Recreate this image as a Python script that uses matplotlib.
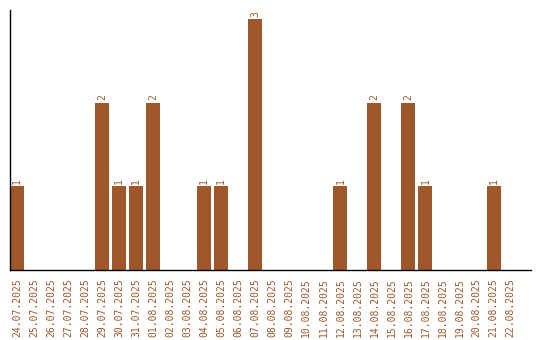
import matplotlib
matplotlib.use("Agg")
import matplotlib.pyplot as plt
import numpy as np
import pandas as pd

days = pd.date_range("2025-07-24", "2025-08-22", freq="D")
labels = [d.strftime("%d.%m.%Y") for d in days]
counts = {"24.07.2025": 1, "29.07.2025": 2, "30.07.2025": 1, "31.07.2025": 1,
          "01.08.2025": 2, "04.08.2025": 1, "05.08.2025": 1, "07.08.2025": 3,
          "12.08.2025": 1, "14.08.2025": 2, "16.08.2025": 2, "17.08.2025": 1,
          "21.08.2025": 1}
values = [counts.get(l, 0) for l in labels]

color = "#a0572a"
fig = plt.figure(figsize=(5.4, 3.4), dpi=100)
fig.patch.set_facecolor("white")
ax = fig.add_axes([10 / 540, 70 / 340, 521 / 540, 260 / 340])

x = np.arange(len(labels))
ax.bar(x, values, width=14 / 17, color=color)
# value labels above the bars
for xi, v in zip(x, values):
    if v:
        ax.text(xi, v + 0.03, str(v), rotation=90, ha="center", va="bottom",
                color=color, fontsize=7, family="DejaVu Sans Mono")

ax.set_xlim(-7 / 17, 30.2)
ax.set_ylim(0, 3.11)
ax.set_xticks(x)
ax.set_xticklabels(labels, rotation=90, color=color, fontsize=7,
                   family="DejaVu Sans Mono")
ax.tick_params(axis="x", length=0, pad=6)
ax.set_yticks([])
for s in ("top", "right"):
    ax.spines[s].set_visible(False)
for s in ("left", "bottom"):
    ax.spines[s].set_linewidth(1.0)
    ax.spines[s].set_color("black")

fig.savefig("out.png", dpi=100, facecolor="white")
